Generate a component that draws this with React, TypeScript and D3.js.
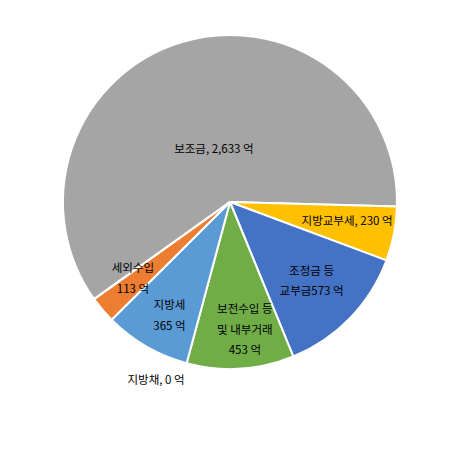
import { useRef, useEffect } from "react";
import * as d3 from "d3";

// clockwise from the 보조금 slice
const categories = ["보조금", "지방교부세", "조정금 등 교부금", "보전수입 등 및 내부거래", "지방세", "세외수입", "지방채"];
const values = [2633, 230, 573, 453, 365, 113, 0];
const labelLines = [
  ["보조금, 2,633 억"],
  ["지방교부세, 230 억"],
  ["조정금 등", "교부금573 억"],
  ["보전수입 등", "및 내부거래", "453 억"],
  ["지방세", "365 억"],
  ["세외수입", "113 억"],
  ["지방채, 0 억"],
];

const COLORS = ["#a5a5a5", "#ffc000", "#4472c4", "#70ad47", "#5b9bd5", "#ed7d31", "#264478"];
// label distance as a share of the radius
const LABEL_K = [0.33, 0.71, 0.68, 0.77, 0.77, 0.74, 1.08];
const LABEL_ANGLE_SHIFT = [0, -2, 0, -3, -2, 2, 0];

const WIDTH = 461;
const HEIGHT = 461;
const CX = 230;
const CY = 202;
const R = 167;
const FONT = "'Noto Sans CJK KR', 'Noto Sans', sans-serif";

export default function App() {
  const svgRef = useRef<SVGSVGElement>(null);

  useEffect(() => {
    if (!svgRef.current) return;
    const svg = d3.select(svgRef.current);
    svg.selectAll("*").remove();

    const start = (-125.55 * Math.PI) / 180;
    const pie = d3
      .pie<number>()
      .sort(null)
      .value((d) => d)
      .startAngle(start)
      .endAngle(start + Math.PI * 2);
    const arcs = pie(values);

    const arc = d3.arc<d3.PieArcDatum<number>>().innerRadius(0).outerRadius(R);

    const g = svg.append("g").attr("transform", `translate(${CX},${CY})`);

    g.selectAll("path")
      .data(arcs)
      .join("path")
      .attr("d", arc)
      .attr("fill", (_, i) => COLORS[i])
      .attr("stroke", "#fff")
      .attr("stroke-width", 2)
      .attr("stroke-linejoin", "round");

    const zeroIdx = categories.indexOf("지방채");

    arcs.forEach((a, i) => {
      let x: number;
      let y: number;
      if (i === zeroIdx) {
        // zero slice: label sits below the pie, like Excel does
        x = -74;
        y = 178;
      } else {
        const mid = (a.startAngle + a.endAngle) / 2 + (LABEL_ANGLE_SHIFT[i] * Math.PI) / 180;
        x = Math.sin(mid) * R * LABEL_K[i];
        y = -Math.cos(mid) * R * LABEL_K[i];
      }
      const lines = labelLines[i];
      const lh = 20.5;
      const t = g
        .append("text")
        .attr("text-anchor", "middle")
        .attr("font-family", FONT)
        .attr("font-size", 11.5)
        .attr("fill", "#000");
      lines.forEach((ln, j) => {
        t.append("tspan")
          .attr("x", x)
          .attr("y", y + (j - (lines.length - 1) / 2) * lh)
          .attr("dy", "0.35em")
          .text(ln);
      });
    });
  }, []);

  return (
    <div style={{ position: "absolute", left: 0, top: 0, width: WIDTH, height: HEIGHT, background: "#fff" }}>
      <svg ref={svgRef} width={WIDTH} height={HEIGHT} />
    </div>
  );
}
